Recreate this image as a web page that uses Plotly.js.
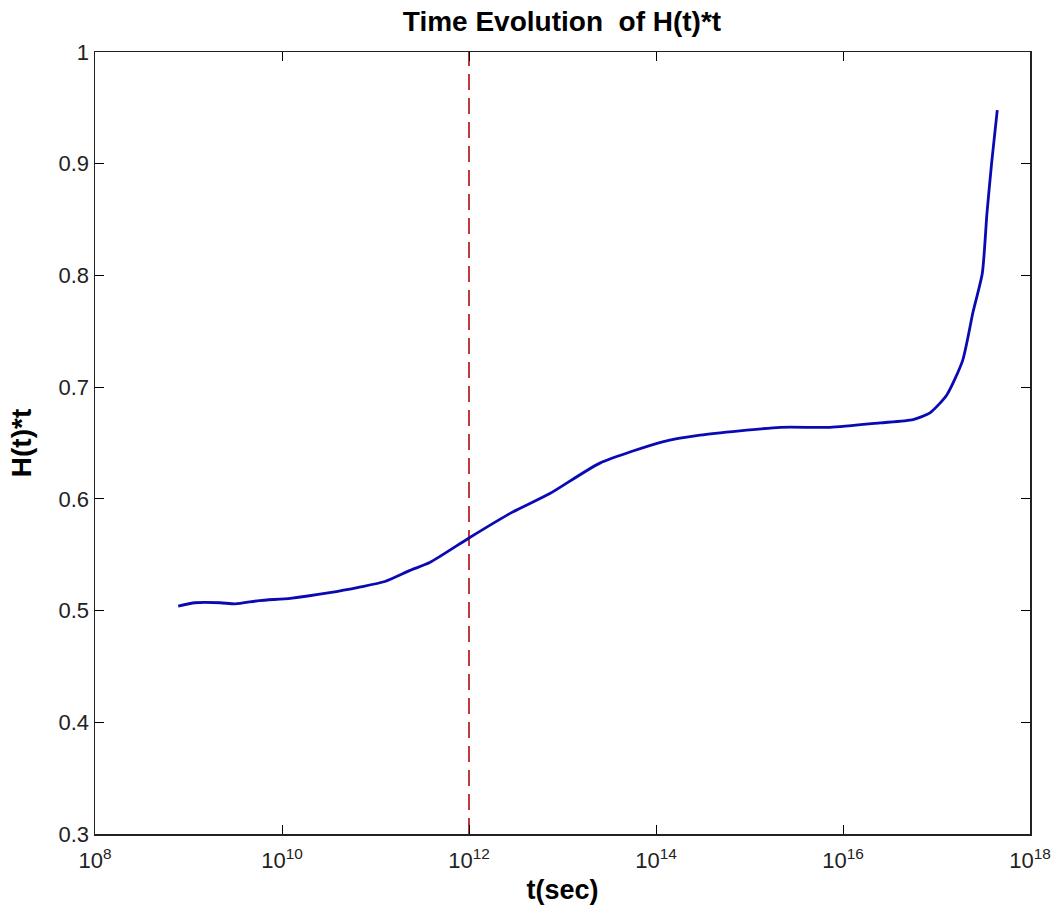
<!DOCTYPE html>
<html>
<head>
<meta charset="utf-8">
<script src="https://cdn.plot.ly/plotly-3.0.1.min.js"></script>
<style>html,body{margin:0;padding:0;background:#fff;}#chart{width:1056px;height:915px;}</style>
</head>
<body>
<div id="chart"></div>
<script>
// log10 of t (seconds) and H(t)*t values
const logT = [8.89, 9.07, 9.34, 9.50, 9.76, 10.09, 10.51, 10.83, 11.10, 11.37, 11.58, 12.00, 12.44, 12.87, 13.40, 14.07, 14.47, 15.33, 15.86, 16.40, 16.75, 16.93, 17.11, 17.28, 17.39, 17.49, 17.54, 17.59, 17.65];
const Ht = [0.504, 0.507, 0.507, 0.506, 0.509, 0.511, 0.516, 0.521, 0.526, 0.536, 0.543, 0.565, 0.587, 0.605, 0.632, 0.651, 0.657, 0.664, 0.664, 0.668, 0.671, 0.677, 0.693, 0.724, 0.767, 0.802, 0.856, 0.901, 0.948];
const tValues = logT.map(v => Math.pow(10, v));

// vertical marker at t = 10^12
const markerT = [1e12, 1e12];
const markerY = [0.3, 1.0];

const xTickVals = [1e8, 1e10, 1e12, 1e14, 1e16, 1e18];
const xTickText = ['10<sup>8</sup>', '10<sup>10</sup>', '10<sup>12</sup>', '10<sup>14</sup>', '10<sup>16</sup>', '10<sup>18</sup>'];
const yTickVals = [0.3, 0.4, 0.5, 0.6, 0.7, 0.8, 0.9, 1.0];
const yTickText = ['0.3', '0.4', '0.5', '0.6', '0.7', '0.8', '0.9', '1'];

const font = 'Liberation Sans, Arial, Helvetica, sans-serif';

const traces = [
  {
    x: markerT, y: markerY, mode: 'lines', type: 'scatter',
    line: {color: '#b8262b', width: 1.8, dash: '16px,8px'},
    hoverinfo: 'skip'
  },
  {
    x: tValues, y: Ht, mode: 'lines', type: 'scatter',
    line: {color: '#0a0ab4', width: 2.8, shape: 'spline', smoothing: 0.6}
  }
];

const layout = {
  width: 1056, height: 915,
  margin: {l: 95, r: 26, t: 52, b: 81},
  paper_bgcolor: '#ffffff', plot_bgcolor: '#ffffff',
  showlegend: false,
  title: {text: '<b>Time Evolution  of H(t)*t</b>', font: {family: font, size: 28, color: '#000'}, x: 562/1056, xanchor: 'center', y: 1 - 21/915, yanchor: 'middle'},
  xaxis: {
    type: 'log', range: [8, 18],
    tickvals: xTickVals, ticktext: xTickText,
    ticks: 'inside', ticklen: 9, tickwidth: 1, tickcolor: '#000',
    showline: true, linecolor: '#222', linewidth: 1.5, mirror: 'ticks',
    showgrid: false, zeroline: false,
    ticklabelstandoff: 6,
    tickfont: {family: font, size: 22, color: '#222'},
    title: {text: '<b>t(sec)</b>', font: {family: font, size: 27, color: '#000'}, standoff: 8}
  },
  yaxis: {
    range: [0.3, 1.0],
    tickvals: yTickVals, ticktext: yTickText,
    ticks: 'inside', ticklen: 9, tickwidth: 1, tickcolor: '#000',
    showline: true, linecolor: '#222', linewidth: 1.5, mirror: 'ticks',
    showgrid: false, zeroline: false,
    tickfont: {family: font, size: 22, color: '#222'},
    title: {text: '<b>H(t)*t</b>', font: {family: font, size: 28, color: '#000'}, standoff: 18}
  }
};

Plotly.newPlot('chart', traces, layout, {displayModeBar: false, staticPlot: true});
</script>
</body>
</html>
